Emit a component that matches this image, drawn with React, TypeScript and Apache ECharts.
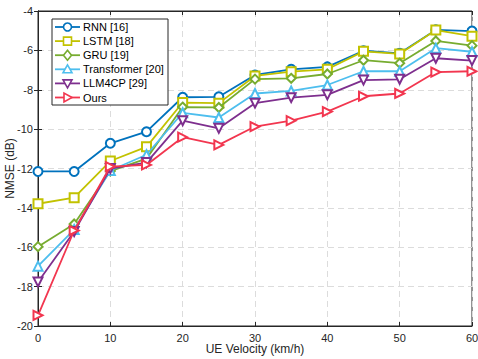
import React, { useEffect, useRef } from "react";
import * as echarts from "echarts";

const velocities = [0, 5, 10, 15, 20, 25, 30, 35, 40, 45, 50, 55, 60];
const rnn = [-12.15, -12.15, -10.72, -10.13, -8.38, -8.36, -7.25, -6.96, -6.84, -6.02, -6.15, -4.96, -5.02];
const lstm = [-13.79, -13.48, -11.62, -10.9, -8.65, -8.68, -7.3, -7.08, -6.96, -6.05, -6.18, -4.97, -5.28];
const gru = [-15.97, -14.82, -12.13, -11.5, -8.88, -8.9, -7.46, -7.42, -7.2, -6.5, -6.65, -5.52, -5.76];
const transformer = [-16.96, -15.1, -12.1, -11.3, -9.17, -9.41, -8.19, -8.06, -7.76, -7.06, -7.06, -5.89, -6.07];
const llm4cp = [-17.76, -15.2, -12.0, -11.7, -9.57, -9.96, -8.68, -8.4, -8.26, -7.51, -7.47, -6.4, -6.52];
const ours = [-19.46, -15.15, -11.9, -11.82, -10.41, -10.8, -9.87, -9.57, -9.11, -8.33, -8.19, -7.1, -7.06];

const seriesNames = ["RNN [16]", "LSTM [18]", "GRU [19]", "Transformer [20]", "LLM4CP [29]", "Ours"];
const seriesData = [rnn, lstm, gru, transformer, llm4cp, ours];
const colors = ["#0072BD", "#C2C200", "#77AC30", "#4DBEEE", "#7E2F8E", "#F2364F"];
const symbols = ["emptyCircle", "emptyRect", "emptyDiamond", "emptyTriangle", "emptyTriangle", "emptyTriangle"];
const rotations = [0, 0, 0, 0, 180, -90];

function legendMarker(i: number, cx: number, cy: number, color: string) {
  const style = { fill: "#ffffff", stroke: color, lineWidth: 1.6 };
  const r = 4.5;
  if (i === 0) return { type: "circle", shape: { cx, cy, r: 4 }, style };
  if (i === 1) return { type: "rect", shape: { x: cx - 4, y: cy - 4, width: 8, height: 8 }, style };
  if (i === 2)
    return { type: "polygon", shape: { points: [[cx, cy - r - 0.5], [cx + r - 0.5, cy], [cx, cy + r + 0.5], [cx - r + 0.5, cy]] }, style };
  if (i === 3)
    return { type: "polygon", shape: { points: [[cx, cy - r], [cx + r, cy + r - 1], [cx - r, cy + r - 1]] }, style };
  if (i === 4)
    return { type: "polygon", shape: { points: [[cx, cy + r], [cx + r, cy - r + 1], [cx - r, cy - r + 1]] }, style };
  return { type: "polygon", shape: { points: [[cx + r, cy], [cx - r + 1, cy - r], [cx - r + 1, cy + r]] }, style };
}

export default function App() {
  const ref = useRef<HTMLDivElement>(null);
  useEffect(() => {
    if (!ref.current) return;
    const chart = echarts.init(ref.current, undefined, { renderer: "svg" });
    const font = "Liberation Sans, Arial, sans-serif";
    const axisColor = "#262626";

    const legendX = 52;
    const legendY = 19;
    const legendW = 116;
    const legendH = 86;
    const rowStart = 27;
    const rowStep = 14.1;
    const legendElements: any[] = [
      {
        type: "rect",
        shape: { x: legendX, y: legendY, width: legendW, height: legendH },
        style: { fill: "#ffffff", stroke: axisColor, lineWidth: 1 },
        z: 100,
      },
    ];
    seriesNames.forEach((name, i) => {
      const cy = rowStart + rowStep * i;
      legendElements.push({
        type: "line",
        shape: { x1: 55, y1: cy, x2: 80, y2: cy },
        style: { stroke: colors[i], lineWidth: 1.8 },
        z: 101,
      });
      legendElements.push({ ...legendMarker(i, 67.5, cy, colors[i]), z: 102 });
      legendElements.push({
        type: "text",
        x: 83,
        y: cy,
        style: { text: name, fontFamily: font, fontSize: 11, fill: "#000000", verticalAlign: "middle", align: "left" },
        z: 102,
      });
    });

    chart.setOption({
      animation: false,
      backgroundColor: "#ffffff",
      textStyle: { fontFamily: font },
      grid: {
        left: 38,
        right: 6,
        top: 11,
        bottom: 33,
        outerBoundsMode: "none",
        containLabel: false,
        show: true,
        borderColor: axisColor,
        borderWidth: 1,
      },
      graphic: legendElements,
      xAxis: [
        {
          type: "value",
          min: 0,
          max: 60,
          interval: 10,
          name: "UE Velocity (km/h)",
          nameLocation: "middle",
          nameGap: 17,
          nameMoveOverlap: false,
          nameTextStyle: { fontFamily: font, fontSize: 12, color: "#262626" },
          axisLine: { show: true, lineStyle: { color: axisColor } },
          axisTick: { show: true, inside: true, length: 4, lineStyle: { color: axisColor } },
          axisLabel: { fontFamily: font, fontSize: 11, color: "#262626", margin: 6 },
          splitLine: { show: true, lineStyle: { color: "#dcdcdc", type: [6, 4], width: 1 } },
        },
        {
          type: "value",
          position: "top",
          min: 0,
          max: 60,
          interval: 10,
          axisLine: { show: true, lineStyle: { color: axisColor } },
          axisTick: { show: true, inside: true, length: 4, lineStyle: { color: axisColor } },
          axisLabel: { show: false },
          splitLine: { show: false },
        },
      ],
      yAxis: [
        {
          type: "value",
          min: -20,
          max: -4,
          interval: 2,
          name: "NMSE (dB)",
          nameLocation: "middle",
          nameGap: 22,
          nameMoveOverlap: false,
          nameTextStyle: { fontFamily: font, fontSize: 12, color: "#262626" },
          axisLine: { show: true, lineStyle: { color: axisColor } },
          axisTick: { show: true, inside: true, length: 4, lineStyle: { color: axisColor } },
          axisLabel: { fontFamily: font, fontSize: 11, color: "#262626", margin: 5 },
          splitLine: { show: true, lineStyle: { color: "#dcdcdc", type: [6, 4], width: 1 } },
        },
        {
          type: "value",
          position: "right",
          min: -20,
          max: -4,
          interval: 2,
          axisLine: { show: true, lineStyle: { color: axisColor } },
          axisTick: { show: true, inside: true, length: 4, lineStyle: { color: axisColor } },
          axisLabel: { show: false },
          splitLine: { show: false },
        },
      ],
      series: seriesNames.map((name, i) => ({
        name,
        type: "line",
        xAxisIndex: 0,
        yAxisIndex: 0,
        data: velocities.map((v, j) => [v, seriesData[i][j]]),
        symbol: symbols[i],
        symbolSize: 9,
        symbolRotate: rotations[i],
        showAllSymbol: true,
        color: colors[i],
        lineStyle: { color: colors[i], width: 1.8 },
        itemStyle: { color: colors[i], borderColor: colors[i], borderWidth: 1.6 },
        z: 2 + i,
      })),
    });
    return () => chart.dispose();
  }, []);
  return <div ref={ref} style={{ width: 478, height: 359, position: "absolute", left: 0, top: 0 }} />;
}
